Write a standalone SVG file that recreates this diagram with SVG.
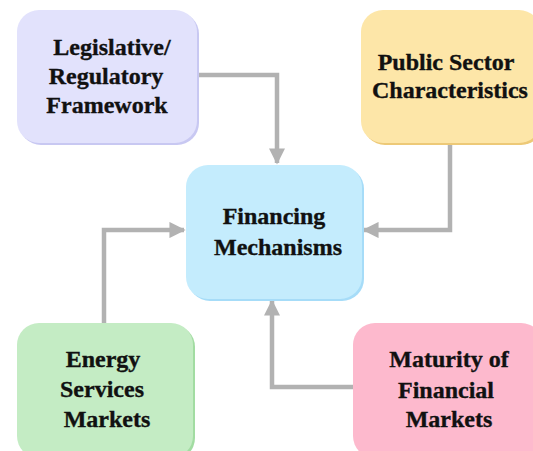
<svg xmlns="http://www.w3.org/2000/svg" width="533" height="451" viewBox="0 0 533 451">
<defs>
<style>
text{font-family:'Liberation Serif','Times New Roman',serif;font-weight:700;font-size:24px;fill:#111;stroke:#111;stroke-width:0.35;text-anchor:middle}
.c{fill:none;stroke:#b2b2b2;stroke-width:4.5}
</style>
<marker id="ah" viewBox="0 0 10 10" refX="9" refY="5" markerWidth="3.6" markerHeight="3.6" orient="auto" markerUnits="strokeWidth">
<path d="M0,0L10,5L0,10z" fill="#b2b2b2"/>
</marker>
</defs>
<rect width="533" height="451" fill="#fff"/>
<g id="connectors">
<path class="c" d="M197,75H277V163" marker-end="url(#ah)"/>
<path class="c" d="M450,143V230H364" marker-end="url(#ah)"/>
<path class="c" d="M104,323V230H184" marker-end="url(#ah)"/>
<path class="c" d="M353,387H272V301" marker-end="url(#ah)"/>
</g>
<g id="legislative">
<rect x="19" y="12" width="180" height="133" rx="22" fill="#c8c8f2"/>
<rect x="17" y="10" width="180" height="133" rx="22" fill="#e2e2fc"/>
<text x="112" y="55">Legislative/</text>
<text x="106" y="84">Regulatory</text>
<text x="107" y="113">Framework</text>
</g>
<g id="public">
<rect x="363" y="12" width="180" height="133" rx="22" fill="#edc977"/>
<rect x="361" y="10" width="180" height="133" rx="22" fill="#fde6a8"/>
<text x="446" y="70">Public Sector</text>
<text x="450" y="98">Characteristics</text>
</g>
<g id="financing">
<rect x="188" y="167" width="176" height="134" rx="22" fill="#a6dcf8"/>
<rect x="186" y="165" width="176" height="134" rx="22" fill="#c4ecfd"/>
<text x="274" y="224">Financing</text>
<text x="278" y="255">Mechanisms</text>
</g>
<g id="energy">
<rect x="19" y="325" width="176" height="135" rx="22" fill="#a2dca2"/>
<rect x="17" y="323" width="176" height="135" rx="22" fill="#c4ecc4"/>
<text x="103" y="367">Energy</text>
<text x="102" y="397">Services</text>
<text x="107" y="427">Markets</text>
</g>
<g id="maturity">
<rect x="355" y="325" width="190" height="135" rx="22" fill="#f294ac"/>
<rect x="353" y="323" width="190" height="135" rx="22" fill="#fdb9cd"/>
<text x="449" y="367">Maturity of</text>
<text x="446" y="398">Financial</text>
<text x="449" y="427">Markets</text>
</g>
</svg>
